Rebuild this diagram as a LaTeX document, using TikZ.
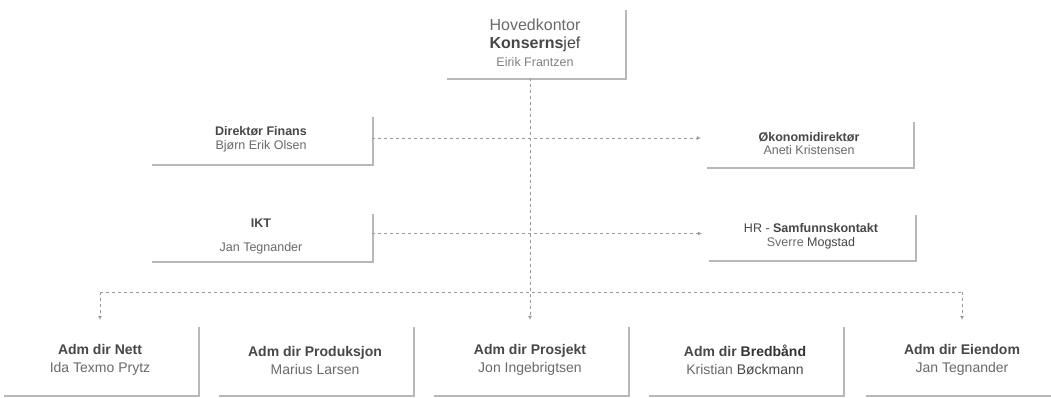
\documentclass[tikz,border=0pt]{standalone}
\usepackage{fontspec}
\setmainfont{Liberation Sans}
\usetikzlibrary{arrows.meta,shadows}
\definecolor{txt}{HTML}{6A6A6A}
\definecolor{txtd}{HTML}{474747}
\definecolor{lin}{HTML}{9A9A9A}
\tikzset{
  card/.style={fill=white, draw=none, inner sep=0pt, align=center, text=txt,
    drop shadow={shadow xshift=1.6pt, shadow yshift=-1.6pt, fill=black!28, opacity=1}},
  sm/.style={font=\fontsize{12.5}{13.5}\selectfont},
  bt/.style={font=\fontsize{14}{18}\selectfont},
  conn/.style={draw=lin, line width=0.7pt, dash pattern=on 3pt off 3pt},
  arr/.style={conn, -{Latex[length=4pt,width=4pt]}},
}
\begin{document}
\begin{tikzpicture}[x=1pt,y=-1pt]
\useasboundingbox[fill=white] (0,0) rectangle (1051,397);
% top
\node[card, font=\fontsize{16}{18}\selectfont, minimum width=180pt, minimum height=70pt] (top) at (535,43)
 {Hovedkontor\\
  \textcolor{txtd}{\textbf{Konserns}jef}\\
  {\fontsize{12.5}{14}\selectfont\color{txt!85} Eirik Frantzen}};
% middle
\node[card, sm, minimum width=222pt, minimum height=49pt] (fin) at (261,139.5)
 {\textcolor{txtd}{\textbf{Direktør Finans}}\\ Bjørn Erik Olsen};
\node[card, sm, minimum width=208pt, minimum height=47pt] (oko) at (809,143.5)
 {\textcolor{txtd}{\textbf{Økonomidirektør}}\\ Aneti Kristensen};
\node[card, sm, minimum width=222pt, minimum height=49pt] (ikt) at (261,236.5)
 {\textcolor{txtd}{\textbf{IKT}}\\[10pt] Jan Tegnander};
\node[card, sm, minimum width=208pt, minimum height=47pt] (hr) at (811,236.5)
 {\textcolor{txtd}{HR - \textbf{Samfunnskontakt}}\\ Sverre \textcolor{txtd}{Mogstad}};
% bottom row
\node[card, bt, minimum width=196pt, minimum height=70pt] (nett) at (100,360)
 {\textcolor{txtd}{\textbf{Adm dir Nett}}\\ Ida Texmo Prytz};
\node[card, bt, minimum width=196pt, minimum height=70pt] (prod) at (315,360)
 {\textcolor{txtd}{\textbf{Adm dir Produksjon}}\\ Marius Larsen};
\node[card, bt, minimum width=196pt, minimum height=70pt] (prj) at (530,360)
 {\textcolor{txtd}{\textbf{Adm dir Prosjekt}}\\ Jon Ingebrigtsen};
\node[card, bt, minimum width=196pt, minimum height=70pt] (bred) at (745,360)
 {\textcolor{txtd}{\textbf{Adm dir} \textcolor{black!80}{\textbf{Bredbånd}}}\\ Kristian \textcolor{txtd}{Bøckmann}};
\node[card, bt, minimum width=196pt, minimum height=70pt] (eie) at (962,360)
 {\textcolor{txtd}{\textbf{Adm dir Eiendom}}\\ Jan Tegnander};
% connectors
\coordinate (busL) at (100,292);
\coordinate (busR) at (962,292);
\draw[arr, shorten >=5pt] (prj.north |- top.south) -- (prj.north);
\draw[conn] (busL) -- (busR);
\draw[arr, shorten >=5pt] (busL) -- (nett.north);
\draw[arr, shorten >=5pt] (busR) -- (eie.north);
\draw[arr, shorten >=4pt] ([yshift=1.5pt]fin.east) -- ([yshift=1.5pt]fin.east -| oko.west);
\draw[arr, shorten >=5pt] ([yshift=3pt]ikt.east) -- ([yshift=3pt]ikt.east -| hr.west);
\end{tikzpicture}
\end{document}
